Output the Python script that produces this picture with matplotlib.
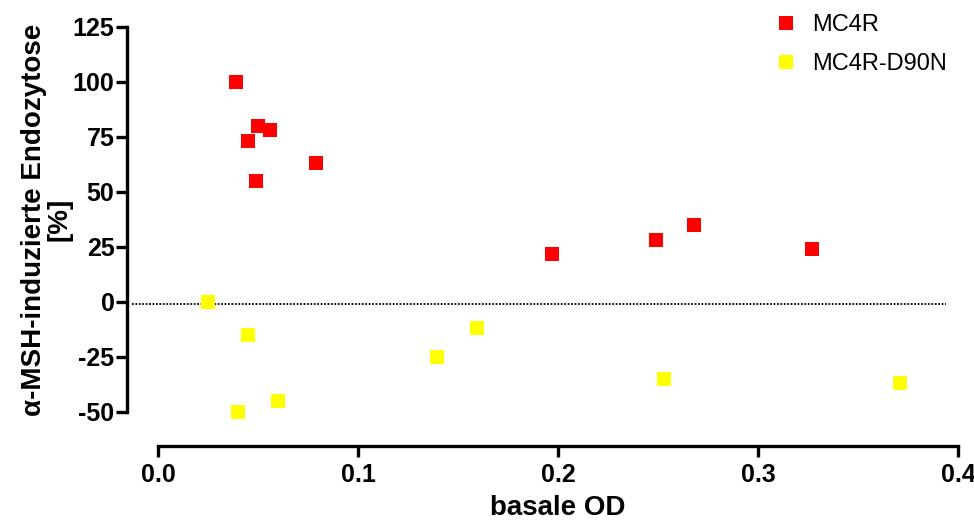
import matplotlib
matplotlib.use("Agg")
import matplotlib.pyplot as plt

plt.rcParams['font.family'] = ['Liberation Sans', 'DejaVu Sans']

# Werte
mc4r_od = [0.039, 0.045, 0.049, 0.050, 0.056, 0.079, 0.197, 0.249, 0.268, 0.327]
mc4r_endo = [100, 73, 55, 80, 78, 63, 22, 28, 35, 24]

d90n_od = [0.025, 0.040, 0.045, 0.060, 0.1395, 0.1595, 0.253, 0.371]
d90n_endo = [0, -50, -15, -45, -25, -12, -35, -37]

x_ticks = [0.0, 0.1, 0.2, 0.3, 0.4]
x_ticklabels = ["0.0", "0.1", "0.2", "0.3", "0.4"]
y_ticks = [-50, -25, 0, 25, 50, 75, 100, 125]
y_ticklabels = [str(v) for v in y_ticks]

ref_y = -1  # gepunktete Referenzlinie

fig = plt.figure(figsize=(9.74, 5.22), dpi=100)
ax = fig.add_axes([127 / 974, 1 - 446 / 522, (958 - 127) / 974, (446 - 27) / 522])

x_lo, x_hi = -0.0155, 0.4
y_lo, y_hi = -65.5, 125
ax.set_xlim(x_lo, x_hi)
ax.set_ylim(y_lo, y_hi)

ax.plot(mc4r_od, mc4r_endo, 's', color='#ff0000', markersize=10,
        markeredgewidth=0, label='MC4R', clip_on=False)
ax.plot(d90n_od, d90n_endo, 's', color='#ffff00', markersize=10,
        markeredgewidth=0, label='MC4R-D90N', clip_on=False)

# Referenzlinie (reicht nicht ganz bis 0.4)
ax.axhline(ref_y, xmin=(-0.013 - x_lo) / (x_hi - x_lo),
           xmax=(0.394 - x_lo) / (x_hi - x_lo),
           color='black', linestyle=(0, (1.0, 0.9)), linewidth=1.3, zorder=1)

for s in ['top', 'right']:
    ax.spines[s].set_visible(False)
ax.spines['left'].set_bounds(-50, 125)
ax.spines['bottom'].set_bounds(0, 0.4)
ax.spines['left'].set_linewidth(2.4)
ax.spines['bottom'].set_linewidth(2.4)

ax.set_xticks(x_ticks)
ax.set_xticklabels(x_ticklabels)
ax.set_yticks(y_ticks)
ax.set_yticklabels(y_ticklabels)
ax.tick_params(axis='both', direction='out', length=8, width=2.4,
               labelsize=18)
ax.tick_params(axis='y', pad=1)
ax.tick_params(axis='x', pad=4)
for lbl in ax.get_xticklabels() + ax.get_yticklabels():
    lbl.set_fontweight('bold')

# Achsentitel mittig unter bzw. neben den verkürzten Achsen
ax.set_xlabel("basale OD", fontsize=20, fontweight='bold')
ax.xaxis.set_label_coords((0.2 - x_lo) / (x_hi - x_lo), -0.116)
ax.set_ylabel("α-MSH-induzierte Endozytose\n[%]", fontsize=20,
              fontweight='bold', linespacing=1.0)
ax.yaxis.set_label_coords(-0.065, (37.5 - y_lo) / (y_hi - y_lo))

leg = fig.legend(loc='upper left', bbox_to_anchor=(774 / 974, 1 - 14 / 522),
                 frameon=False, fontsize=17, handlelength=1.0,
                 handletextpad=0.6, borderpad=0, borderaxespad=0,
                 labelspacing=0.72)

fig.savefig("out.png", dpi=100)
